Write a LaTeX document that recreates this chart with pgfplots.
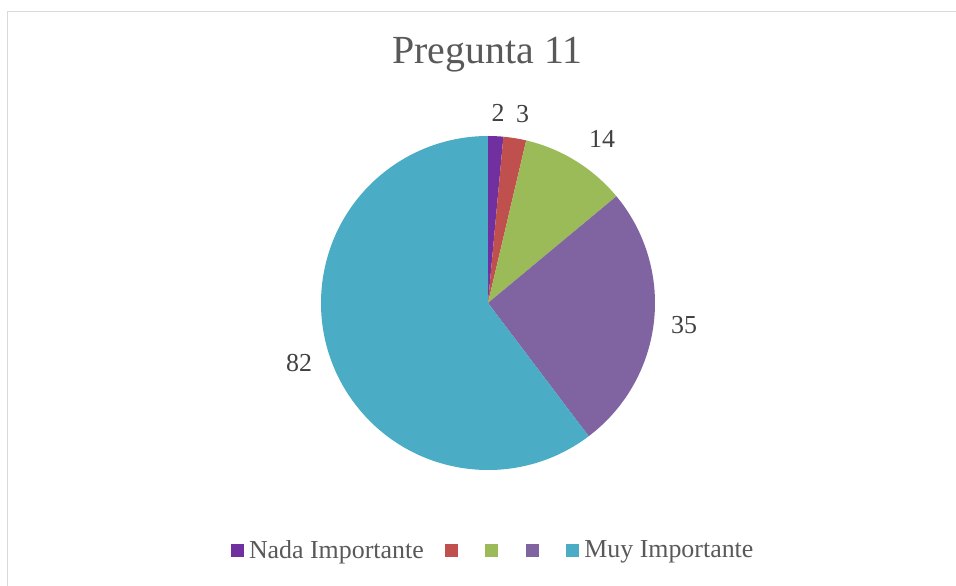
\documentclass[border=0pt]{standalone}
\usepackage{pgfplots}
\pgfplotsset{compat=1.18}
\usepackage{pgfplotstable}
\usepackage{fontspec}
\setmainfont{Liberation Serif}
\definecolor{cA}{HTML}{7030A0}
\definecolor{cB}{HTML}{C0504D}
\definecolor{cC}{HTML}{9BBB59}
\definecolor{cD}{HTML}{8064A2}
\definecolor{cE}{HTML}{4BACC6}
\definecolor{framegray}{HTML}{D9D9D9}
\definecolor{titlegray}{HTML}{595959}
\definecolor{labgray}{HTML}{404040}

\pgfplotstableread{
idx value
0 2
1 3
2 14
3 35
4 82
}\piedata

\begin{document}
\begin{tikzpicture}
\pgfplotstablegetelem{0}{value}\of\piedata \let\vA\pgfplotsretval
\pgfplotstablegetelem{1}{value}\of\piedata \let\vB\pgfplotsretval
\pgfplotstablegetelem{2}{value}\of\piedata \let\vC\pgfplotsretval
\pgfplotstablegetelem{3}{value}\of\piedata \let\vD\pgfplotsretval
\pgfplotstablegetelem{4}{value}\of\piedata \let\vE\pgfplotsretval
\pgfmathsetmacro\tot{\vA+\vB+\vC+\vD+\vE}
\pgfmathsetmacro\aZ{90}
\pgfmathsetmacro\aA{\aZ-(\vA/\tot)*360}
\pgfmathsetmacro\aB{\aA-(\vB/\tot)*360}
\pgfmathsetmacro\aC{\aB-(\vC/\tot)*360}
\pgfmathsetmacro\aD{\aC-(\vD/\tot)*360}
\pgfmathsetmacro\aE{\aD-(\vE/\tot)*360}
\useasboundingbox (0,0) rectangle (956bp,586bp);
\begin{axis}[
  at={(0,0)}, anchor=south west, scale only axis,
  width=956bp, height=586bp,
  xmin=0, xmax=956, ymin=0, ymax=586,
  hide axis, clip=false,
  legend columns=5,
  legend style={at={(axis cs:492,36)}, anchor=center, draw=none, fill=none,
    font=\fontsize{26}{29}\selectfont, text=titlegray,
    nodes={inner sep=0pt},
    /tikz/every odd column/.append style={column sep=6bp},
    /tikz/every even column/.append style={column sep=21bp}},
]
\addlegendimage{legend image code/.code={\fill[cA] (0bp,-6bp) rectangle (12bp,6bp);}}
\addlegendentry{Nada Importante}
\addlegendimage{legend image code/.code={\fill[cB] (0bp,-6bp) rectangle (12bp,6bp);}}
\addlegendentry{\mbox{}}
\addlegendimage{legend image code/.code={\fill[cC] (0bp,-6bp) rectangle (12bp,6bp);}}
\addlegendentry{\mbox{}}
\addlegendimage{legend image code/.code={\fill[cD] (0bp,-6bp) rectangle (12bp,6bp);}}
\addlegendentry{\mbox{}}
\addlegendimage{legend image code/.code={\fill[cE] (0bp,-6bp) rectangle (12bp,6bp);}}
\addlegendentry{Muy Importante}

\draw[framegray, line width=1.5bp] (axis cs:7.5,0) -- (axis cs:7.5,574.5) -- (axis cs:956,574.5);

\fill[cA] (axis cs:488,283) -- ++(\aZ:167bp) arc[start angle=\aZ, end angle=\aA, radius=167bp] -- cycle;
\fill[cB] (axis cs:488,283) -- ++(\aA:167bp) arc[start angle=\aA, end angle=\aB, radius=167bp] -- cycle;
\fill[cC] (axis cs:488,283) -- ++(\aB:167bp) arc[start angle=\aB, end angle=\aC, radius=167bp] -- cycle;
\fill[cD] (axis cs:488,283) -- ++(\aC:167bp) arc[start angle=\aC, end angle=\aD, radius=167bp] -- cycle;
\fill[cE] (axis cs:488,283) -- ++(\aD:167bp) arc[start angle=\aD, end angle=\aE, radius=167bp] -- cycle;

\node[text=titlegray, font=\fontsize{40}{44}\selectfont, anchor=base] at (axis cs:487.5,522) {Pregunta 11};

\begin{scope}[every node/.style={text=labgray, font=\fontsize{26}{28}\selectfont, inner sep=0pt, anchor=center}]
\node at (axis cs:498,473) {\vA};
\node at (axis cs:522.5,472) {\vB};
\node at (axis cs:602,447) {\vC};
\node at (axis cs:684,260.5) {\vD};
\node at (axis cs:299,222.5) {\vE};
\end{scope}
\end{axis}
\end{tikzpicture}
\end{document}
